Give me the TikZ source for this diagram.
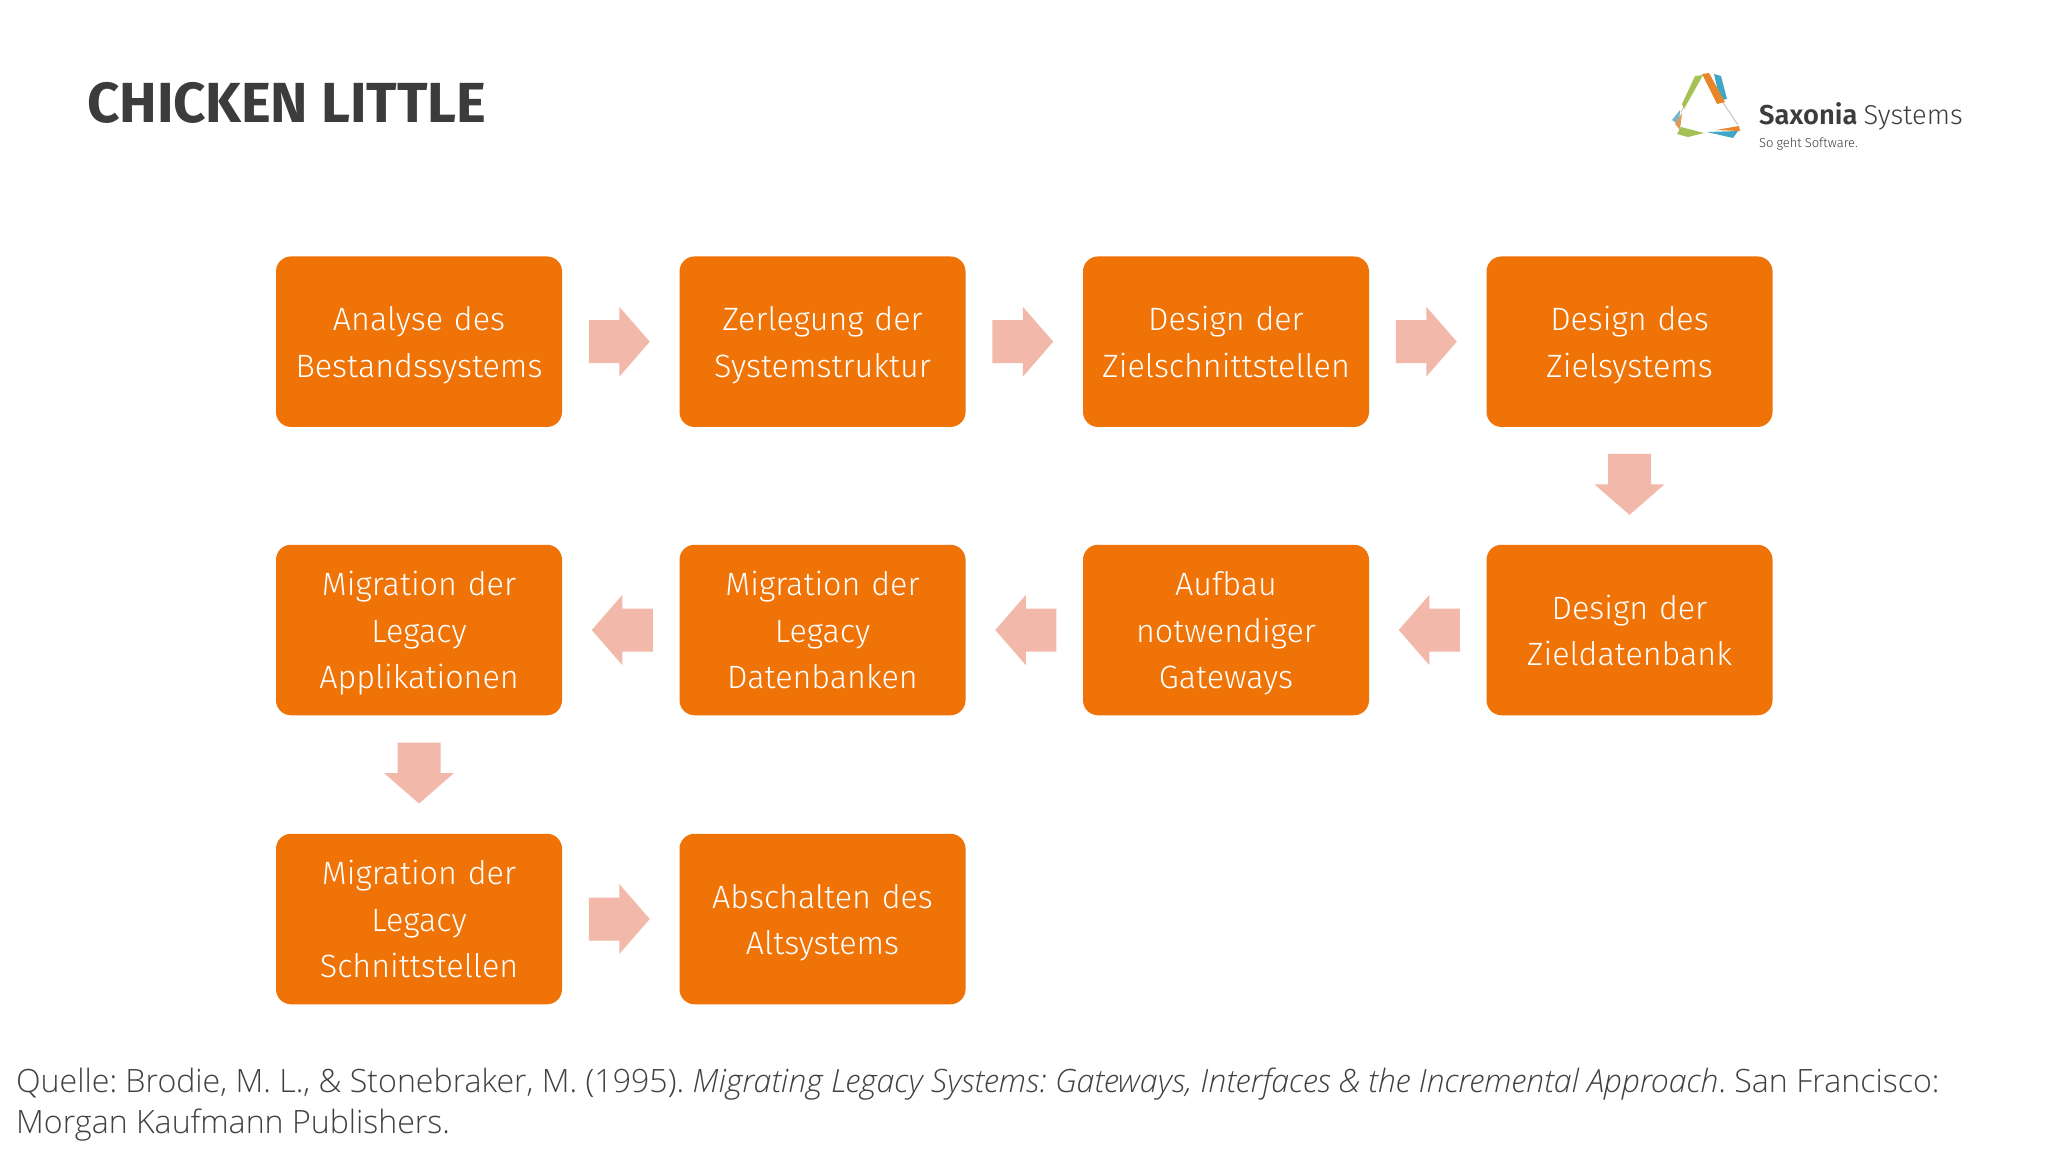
\documentclass[tikz,border=0pt]{standalone}
\usepackage{fontspec}
\usetikzlibrary{calc}
\setmainfont{Fira Sans Light}[BoldFont=Fira Sans SemiBold,ItalicFont=Fira Sans Light Italic,WordSpace=0.8]
\newfontfamily\titlefont{Fira Sans Bold}[LetterSpace=-0.3]
\newfontfamily\srcfont{Open Sans Light}[ItalicFont=Open Sans Light Italic]
\definecolor{boxor}{HTML}{EF7306}
\definecolor{arrowpk}{HTML}{F2B9AB}
\definecolor{titlegr}{HTML}{3C3C3C}
\definecolor{srcgr}{HTML}{404040}
\definecolor{lgreen}{HTML}{A4C255}
\definecolor{lorange}{HTML}{E8852B}
\definecolor{lblue}{HTML}{3FA6C8}
\definecolor{lgrey}{HTML}{C9CDC9}
\newcommand\linestrut{\rule[-11pt]{0pt}{46.5pt}}
\tikzset{
  x=1pt,y=-1pt,
  stepbox/.style={draw=none,fill=boxor,rounded corners=15pt,minimum width=286pt,minimum height=170.5pt,
    inner sep=0pt,text=white,align=center,font=\fontsize{32.3}{46.5}\selectfont,text width=284pt,
    execute at begin node=\linestrut,execute at end node=\linestrut},
  flow/.style={draw=none,fill=arrowpk,to path={
    ($(\tikztostart)!.5!(\tikztotarget)$) coordinate (fm)
    ($(fm)!-32pt!(\tikztotarget)$) coordinate (fs)
    ($(fm)!29pt!(\tikztotarget)$) coordinate (ft)
    ($(ft)!30.5pt!(fs)$) coordinate (fh)
    ($(fs)!21.5pt!90:(ft)$) -- ($(fh)!21.5pt!90:(ft)$) -- ($(fh)!35pt!90:(ft)$) -- (ft)
    -- ($(fh)!35pt!-90:(ft)$) -- ($(fh)!21.5pt!-90:(ft)$) -- ($(fs)!21.5pt!-90:(ft)$) -- cycle}},
  wlabel/.style={anchor=base west,inner sep=0pt,text=srcgr},
}
\begin{document}
\begin{tikzpicture}
\useasboundingbox (0,0) rectangle (2048,1152);
\fill[white] (0,0) rectangle (2048,1152);
\node[anchor=base west,inner sep=0pt,text=titlegr,font=\fontsize{56.5}{60}\titlefont] (title) at (87,122.7) {CHICKEN LITTLE};
% logo
\draw[lgrey,line width=1.2pt] (1720,98) -- (1738,125);
\draw[lgrey,line width=1pt] (1681,112) -- (1692,92);
\fill[lblue] (1714,74) -- (1721,76) -- (1727,99) -- (1720,100) -- cycle;
\fill[lorange] (1702,74) -- (1709,73) -- (1725,102) -- (1717,104) -- cycle;
\fill[lgreen] (1695,76) -- (1703,75) -- (1684,109) -- (1682,104) -- cycle;
\fill[lblue!60!lgrey] (1672,120) -- (1680,110) -- (1679,125) -- cycle;
\fill[lorange!70!lgrey] (1675,124) -- (1682,113) -- (1680,130) -- cycle;
\fill[lgreen] (1677,134) -- (1681,127) -- (1704,133) -- (1688,137) -- cycle;
\fill[lblue] (1707,132) -- (1738,131) -- (1733,138) -- cycle;
\fill[lorange] (1716,130) -- (1739,126) -- (1740,131) -- cycle;
\node[wlabel,text=titlegr,font=\fontsize{27.3}{30}\selectfont] (logoname) at (1759,124) {\textbf{Saxonia} Systems};
\node[wlabel,text=titlegr,font=\fontsize{13}{14}\selectfont] (logotag) at (1759,147) {So geht Software.};
% boxes
\node[stepbox] (a1) at (419,341.7) {Analyse des\\Bestandssystems};
\node[stepbox] (a2) at (822.5,341.7) {Zerlegung der\\Systemstruktur};
\node[stepbox] (a3) at (1226,341.7) {Design der\\Zielschnittstellen};
\node[stepbox] (a4) at (1629.5,341.7) {Design des\\Zielsystems};
\node[stepbox] (b4) at (1629.5,630) {Design der\\Zieldatenbank};
\node[stepbox] (b3) at (1226,630) {Aufbau\\notwendiger\\Gateways};
\node[stepbox] (b2) at (822.5,630) {Migration der\\Legacy\\Datenbanken};
\node[stepbox] (b1) at (419,630) {Migration der\\Legacy\\Applikationen};
\node[stepbox] (c1) at (419,919) {Migration der\\Legacy\\Schnittstellen};
\node[stepbox] (c2) at (822.5,919) {Abschalten des\\Altsystems};
% arrows
\path[flow] (a1) to (a2);
\path[flow] (a2) to (a3);
\path[flow] (a3) to (a4);
\path[flow] (a4) to (b4);
\path[flow] (b4) to (b3);
\path[flow] (b3) to (b2);
\path[flow] (b2) to (b1);
\path[flow] (b1) to (c1);
\path[flow] (c1) to (c2);
% source
\node[wlabel,font=\fontsize{32.13}{41}\srcfont\frenchspacing] (src1) at (16,1092) {Quelle: Brodie, M. L., \& Stonebraker, M. (1995). \textit{Migrating Legacy Systems: Gateways, Interfaces \& the Incremental Approach}. San Francisco:};
\node[wlabel,font=\fontsize{32.13}{41}\srcfont\frenchspacing] (src2) at (16,1133) {Morgan Kaufmann Publishers.};
\end{tikzpicture}
\end{document}
